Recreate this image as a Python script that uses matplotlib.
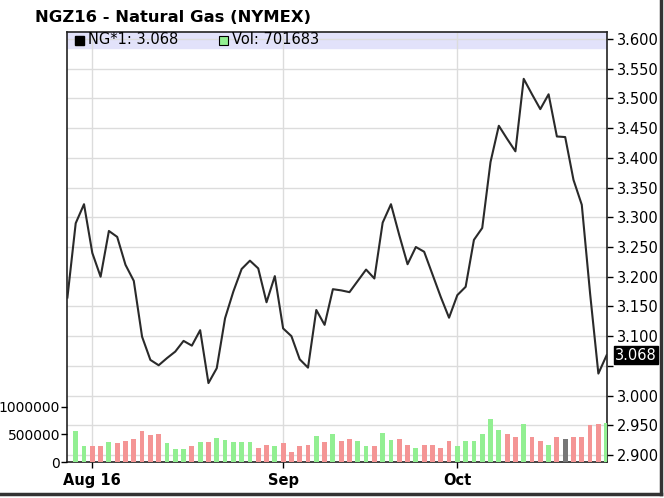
import numpy as np
import matplotlib
matplotlib.use("Agg")
import matplotlib.pyplot as plt
from matplotlib.lines import Line2D
from matplotlib.patches import Rectangle
import matplotlib.transforms as mtransforms

# daily closes, first value is the day before the first volume bar
closes = [3.165,
          3.290, 3.322, 3.240, 3.200, 3.277, 3.267, 3.220, 3.193, 3.099, 3.060,
          3.051, 3.063, 3.074, 3.092, 3.084, 3.110, 3.021, 3.046, 3.130, 3.175,
          3.213, 3.227, 3.214, 3.157, 3.201, 3.113, 3.100, 3.061, 3.047, 3.144,
          3.119, 3.179, 3.177, 3.174, 3.193, 3.212, 3.197, 3.291, 3.322, 3.270,
          3.221, 3.250, 3.242, 3.204, 3.166, 3.131, 3.169, 3.183, 3.262, 3.282,
          3.393, 3.454, 3.432, 3.411, 3.533, 3.507, 3.482, 3.507, 3.436, 3.435,
          3.363, 3.321, 3.172, 3.037, 3.068]

volumes = [563000, 285000, 285000, 285000, 364000, 352000, 376000, 424000, 563000, 485000,
           503000, 345000, 230000, 230000, 285000, 364000, 364000, 443000, 394000, 364000,
           364000, 364000, 255000, 316000, 285000, 345000, 182000, 285000, 316000, 473000,
           364000, 503000, 376000, 424000, 376000, 285000, 285000, 534000, 394000, 424000,
           316000, 255000, 316000, 316000, 255000, 376000, 291000, 376000, 376000, 516000,
           776000, 589000, 516000, 455000, 698000, 455000, 376000, 316000, 455000, 424000,
           455000, 455000, 680000, 698000, 701683]

# G = up day, R = down day, N = unchanged
direction = "GGRRGRRRRRRGGGRGRGGGGGRRGRRRRGRG" + "RRGGRGGRRGRRRRGGGGGGRRGRRGRNRRRRG"

month_pos = [2, 25, 46]
month_labels = ["Aug 16", "Sep", "Oct"]

price_ticks = [2.90, 2.95, 3.00, 3.05, 3.10, 3.15, 3.20, 3.25, 3.30, 3.35,
               3.40, 3.45, 3.50, 3.55, 3.60]
vol_ticks = [0, 500000, 1000000]

bar_colors = {"G": "#92ef92", "R": "#f49595", "N": "#777777"}

fig = plt.figure(figsize=(6.64, 4.98), dpi=100)
ax = fig.add_axes([67 / 664, 36 / 498, 540 / 664, 430 / 498])
axv = ax.twinx()

x_price = np.arange(-1, len(closes) - 1)
x_vol = np.arange(len(volumes))

# price panel (right axis)
ax.set_xlim(-1.05, 64.04)
ax.set_ylim(2.8882, 3.6118)
ax.axhspan(3.585, 3.62, color="#e2e2fa", zorder=0)
ax.plot(x_price, closes, color="#2a2a2a", lw=1.5, zorder=5)

ax.yaxis.tick_right()
ax.set_yticks(price_ticks)
ax.set_yticklabels(["" if abs(t - 3.05) < 1e-9 else "%.3f" % t for t in price_ticks])
ax.set_xticks(month_pos)
ax.set_xticklabels(month_labels, fontweight="bold")
ax.tick_params(axis="both", direction="out", length=4, width=1, labelsize=10.5, pad=3)
ax.tick_params(axis="x", pad=4)
ax.grid(True, color="#dcdcdc", lw=1, zorder=1)
ax.set_axisbelow(True)
for s in ax.spines.values():
    s.set_color("#222222")
    s.set_linewidth(1.2)

# last value marker on the price axis
trans = mtransforms.blended_transform_factory(ax.transAxes, ax.transData)
ax.text(1.0 + 8 / 540, closes[-1], "%.3f" % closes[-1], transform=trans, ha="left", va="center",
        fontsize=10.5, color="white", clip_on=False,
        bbox=dict(boxstyle="square,pad=0.1", fc="black", ec="black"))

# volume panel (left axis)
axv.set_ylim(0, 7.818e6)
axv.bar(x_vol, volumes, width=0.58, color=[bar_colors[d] for d in direction], zorder=3)
axv.yaxis.tick_left()
axv.set_yticks(vol_ticks)
axv.set_yticklabels([str(v) for v in vol_ticks])
axv.tick_params(axis="y", direction="out", length=4, width=1, labelsize=10, pad=1)
for s in axv.spines.values():
    s.set_visible(False)

# legend strip
fig.patches.append(Rectangle((75 / 664, 1 - 45 / 498), 9 / 664, 9 / 498,
                             transform=fig.transFigure, fc="black", ec="black"))
fig.text(88 / 664, 1 - 40 / 498, "NG*1: 3.068", fontsize=10.5, va="center")
fig.patches.append(Rectangle((219 / 664, 1 - 45 / 498), 9 / 664, 9 / 498,
                             transform=fig.transFigure, fc="#92ef92", ec="black", lw=0.8))
fig.text(232 / 664, 1 - 40 / 498, "Vol: 701683", fontsize=10.5, va="center")

fig.text(35 / 664, 1 - 18 / 498, "NGZ16 - Natural Gas (NYMEX)", fontsize=11.8,
         fontweight="bold", va="center")

# screenshot frame
fig.add_artist(Line2D([661 / 664, 661 / 664], [4 / 498, 1], transform=fig.transFigure,
                      color="#333333", lw=2.5))
fig.add_artist(Line2D([0, 661 / 664], [4 / 498, 4 / 498], transform=fig.transFigure,
                      color="#333333", lw=2.5))

plt.savefig("out.png", dpi=100)
